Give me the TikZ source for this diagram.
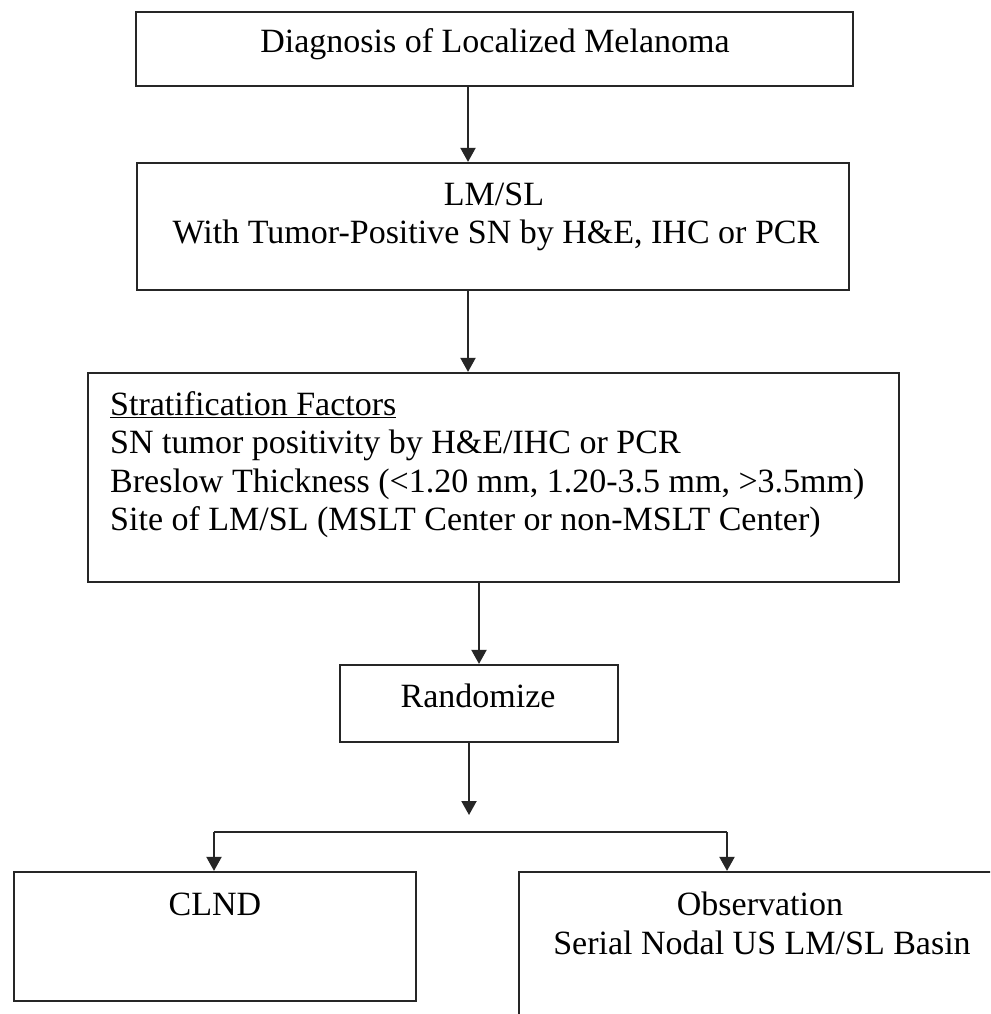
\documentclass[tikz,border=0pt]{standalone}
\usepackage{fontspec}
\setmainfont{Liberation Serif}
\usetikzlibrary{arrows.meta}
\begin{document}
\begin{tikzpicture}[x=1pt,y=-1pt,
  box/.style={draw=black!85,line width=2.2pt,rectangle,inner sep=0pt},
  txt/.style={inner sep=0pt,font=\fontsize{34}{38.5}\selectfont},
  arr/.style={draw=black!85,line width=2pt,-{Triangle[width=15pt,length=14pt]}},
  ln/.style={draw=black!85,line width=2pt}]
\clip (0,0) rectangle (990,1014);
\fill[white] (0,0) rectangle (990,1014);
% boxes
\node[box,minimum width=717,minimum height=74] (b1) at (494.5,49) {};
\node[box,minimum width=712,minimum height=127] (b2) at (493,226.5) {};
\node[box,minimum width=811,minimum height=209] (b3) at (493.5,477.5) {};
\node[box,minimum width=278,minimum height=77] (rand) at (479,703.5) {};
\node[box,minimum width=402,minimum height=129] (clnd) at (215,936.5) {};
\node[box,minimum width=491,minimum height=168] (obs) at (764.5,956) {};
% texts
\node[txt,anchor=base] (t1) at (495,53) {Diagnosis of Localized Melanoma};
\node[txt,anchor=base] (t2a) at (494,205) {LM/SL};
\node[txt,anchor=base] (t2b) at (496,243) {With Tumor-Positive SN by H\&E, IHC or PCR};
\node[txt,anchor=base west] (t3a) at (110,415) {\underline{Stratification Factors}};
\node[txt,anchor=base west] (t3b) at (110,453) {SN tumor positivity by H\&E/IHC or PCR};
\node[txt,anchor=base west] (t3c) at (110,492) {Breslow Thickness (<1.20 mm, 1.20-3.5 mm, >3.5mm)};
\node[txt,anchor=base west] (t3d) at (110,530) {Site of LM/SL (MSLT Center or non-MSLT Center)};
\node[txt,anchor=base] (t4) at (478,707) {Randomize};
\node[txt,anchor=base] (t5) at (215,915) {CLND};
\node[txt,anchor=base] (t6a) at (760,915) {Observation};
\node[txt,anchor=base] (t6b) at (762,954) {Serial Nodal US LM/SL Basin};
% connectors
\draw[arr] ([xshift=-26.5]b1.south) -- ([xshift=-26.5]b1.south |- b2.north);
\draw[arr] ([xshift=-25]b2.south) -- ([xshift=-25]b2.south |- b3.north);
\draw[arr] (rand.north |- b3.south) -- (rand.north);
\coordinate (r1) at (469,815);
\draw[arr] (r1 |- rand.south) -- (r1);
\coordinate (sL) at (214,832);
\coordinate (sR) at (727,832);
\draw[ln] (sL) -- (sR);
\draw[arr] (sL) -- (sL |- clnd.north);
\draw[arr] (sR) -- (sR |- obs.north);
\end{tikzpicture}
\end{document}
